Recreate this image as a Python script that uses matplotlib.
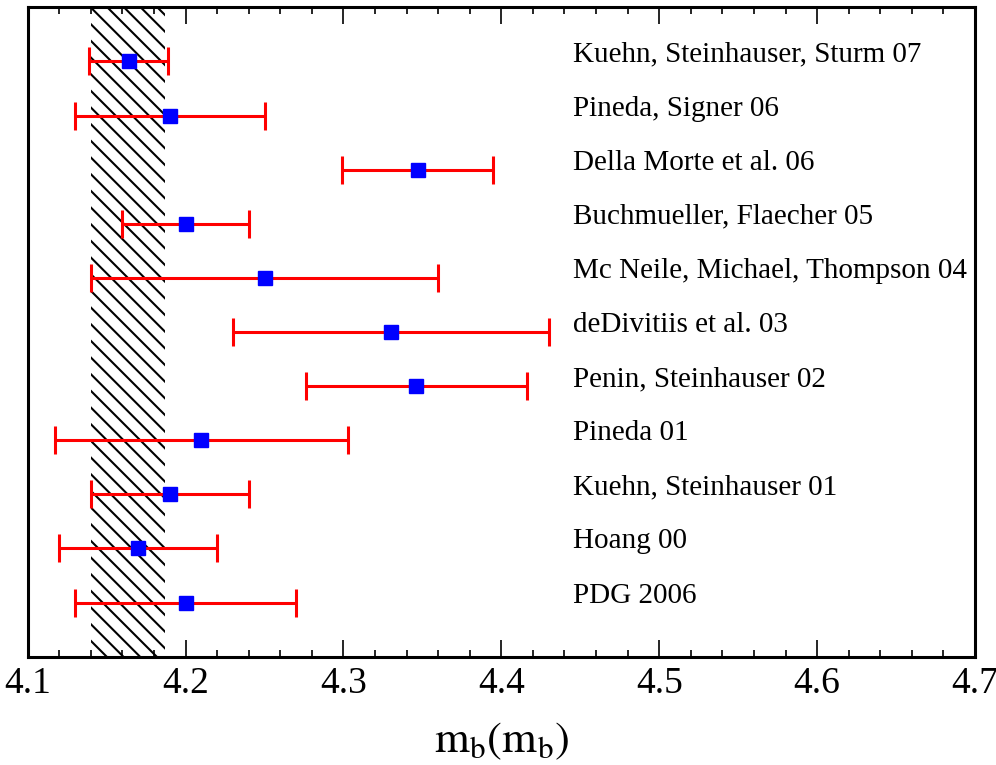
import matplotlib
matplotlib.use("Agg")
import matplotlib.pyplot as plt
from matplotlib.ticker import MultipleLocator

plt.rcParams["font.family"] = ["Liberation Serif", "DejaVu Serif"]
plt.rcParams["mathtext.fontset"] = "stix"
plt.rcParams["hatch.linewidth"] = 1.5

# 各組測量結果 (由上到下)
labels = [
    "Kuehn, Steinhauser, Sturm 07",
    "Pineda, Signer 06",
    "Della Morte et al. 06",
    "Buchmueller, Flaecher 05",
    "Mc Neile, Michael, Thompson 04",
    "deDivitiis et al. 03",
    "Penin, Steinhauser 02",
    "Pineda 01",
    "Kuehn, Steinhauser 01",
    "Hoang 00",
    "PDG 2006",
]
mb_values = [4.164, 4.19, 4.347, 4.20, 4.25, 4.33, 4.346, 4.21, 4.19, 4.17, 4.20]
mb_errors = [0.025, 0.06, 0.048, 0.04, 0.11, 0.10, 0.07, 0.093, 0.05, 0.05, 0.07]
band_low = 4.14
band_high = 4.187

rows = list(range(len(labels), 0, -1))  # 11 ... 1

fig = plt.figure(figsize=(9.96, 7.65), dpi=100)
ax = fig.add_axes([0.0278, 0.1416, 0.9511, 0.8489])

ax.axvspan(band_low, band_high, facecolor="none", edgecolor="black",
           hatch="\\\\", linewidth=0, zorder=1)

ax.errorbar(mb_values, rows, xerr=mb_errors, fmt="s", color="blue",
            markersize=10, ecolor="red", elinewidth=2.2, capsize=10,
            capthick=2.2, zorder=3)

for r, name in zip(rows, labels):
    ax.text(4.4456, r, name, fontsize=21, va="baseline", ha="left")

ax.set_xlim(4.1, 4.7)
ax.set_ylim(0, 12)
ax.xaxis.set_major_locator(MultipleLocator(0.1))
ax.xaxis.set_minor_locator(MultipleLocator(0.02))
ax.set_xticks([4.1, 4.2, 4.3, 4.4, 4.5, 4.6, 4.7])
ax.set_xticklabels(["4.1", "4.2", "4.3", "4.4", "4.5", "4.6", "4.7"])
ax.tick_params(axis="x", which="both", direction="in", top=True,
               labelsize=27, pad=7, width=1.2)
ax.tick_params(axis="x", which="major", length=12)
ax.tick_params(axis="x", which="minor", length=5)
ax.set_yticks([])
for sp in ax.spines.values():
    sp.set_linewidth(2.2)

ax.set_xlabel(r"$\mathrm{m_b(m_b)}$", fontsize=32, labelpad=14)

fig.savefig("out.png", dpi=100)
